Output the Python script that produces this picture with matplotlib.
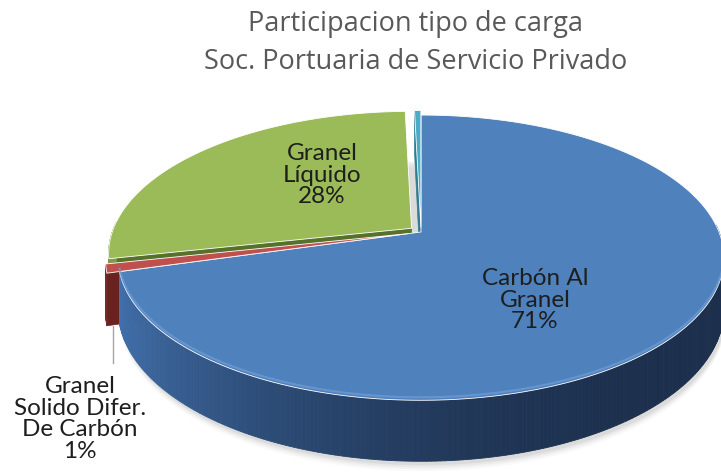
import numpy as np
import matplotlib
matplotlib.use("Agg")
import matplotlib.pyplot as plt
from matplotlib.colors import to_rgb

# data (clockwise from the top)
labels = ["Carbón Al\nGranel\n71%", "Granel\nSolido Difer.\nDe Carbón\n1%", "Granel\nLíquido\n28%", ""]
values = [70.6, 1.0, 28.0, 0.4]
top_colors = ["#4F81BD", "#C0504D", "#9BBB59", "#4BACC6"]
side_light = ["#4373b0", "#7a2b29", "#7f9c44", "#3a8aa0"]
side_dark = ["#1c2f4c", "#4f1a18", "#55692c", "#24586a"]
face_colors = ["#2f5080", "#6a2220", "#56722a", "#2f7d92"]
explode = [0, 13, 12, 9]   # pixels

title = "Participacion tipo de carga\nSoc. Portuaria de Servicio Privado"

W, H = 721, 473
fig = plt.figure(figsize=(W / 100, H / 100), dpi=100)
ax = fig.add_axes([0, 0, 1, 1])
ax.set_xlim(0, W)
ax.set_ylim(H, 0)
ax.axis("off")

cx, cy = 421, 232      # hub of the pie (pixels)
R, Ry = 298, 138
k = 0.18               # perspective strength
depth = 50


def proj(t):
    s = 1 / (1 + k * np.sin(t))
    return cx + R * np.cos(t) * s, cy - Ry * np.sin(t) * s, s


fracs = np.array(values) / sum(values)
bounds = np.radians(90 - 360 * np.concatenate([[0], np.cumsum(fracs)]))


def offset(i):
    mid = (bounds[i] + bounds[i + 1]) / 2
    return explode[i] * np.cos(mid), -explode[i] * np.sin(mid) * 0.5


# soft shadow under the pie
ts = np.linspace(0, 2 * np.pi, 300)
sx, sy, ss = proj(ts)
for j, a in enumerate(np.linspace(0.05, 0.02, 4)):
    ax.fill(sx + 2, sy + depth * ss + 4 + 2 * j, color="black", alpha=a, lw=0, zorder=1)

# sides of each slice, from the back to the front
z = 2.0
for i in [2, 3, 1, 0]:
    t0, t1 = bounds[i], bounds[i + 1]
    dx, dy = offset(i)
    # radial cut faces that turn toward the viewer
    if explode[i]:
        for t, normal in [(t0, t0 + np.pi / 2), (t1, t1 - np.pi / 2)]:
            if np.sin(normal) >= 0:
                continue
            x1, y1, s1 = proj(t)
            ax.fill([cx + dx, x1 + dx, x1 + dx, cx + dx],
                    [cy + dy, y1 + dy, y1 + dy + depth * s1, cy + dy + depth],
                    color=face_colors[i], lw=0.5, zorder=z)
    # outer wall, shaded darker toward the right
    ts = np.linspace(t0, t1, max(3, int(abs(t1 - t0) / np.radians(0.7))))
    lo, hi = np.array(to_rgb(side_dark[i])), np.array(to_rgb(side_light[i]))
    for a, b in zip(ts[:-1], ts[1:]):
        if np.sin((a + b) / 2) > 0.05:
            continue
        f = 0.5 - 0.5 * np.cos((a + b) / 2)
        c = lo + (hi - lo) * f ** 2.5
        x1, y1, s1 = proj(a)
        x2, y2, s2 = proj(b)
        ax.fill([x1 + dx, x2 + dx, x2 + dx, x1 + dx],
                [y1 + dy, y2 + dy, y2 + dy + depth * s2, y1 + dy + depth * s1],
                color=c, lw=0.6, zorder=z)
    z += 0.1

# top faces
for i in range(len(values)):
    dx, dy = offset(i)
    ts = np.linspace(bounds[i], bounds[i + 1], 200)
    xs, ys, _ = proj(ts)
    px = np.concatenate([[cx], xs]) + dx
    py = np.concatenate([[cy], ys]) + dy
    ax.fill(px, py, color=top_colors[i], ec="white", lw=0.6, zorder=3)

# bevel highlight on the front rim of the big slice
ts = np.linspace(np.radians(-5), bounds[1], 200)
hx, hy, _ = proj(ts)
ax.plot(hx, hy - 3, color="#6d9bd3", lw=1.5, alpha=0.8, zorder=4)

# labels
lab_font = dict(family="Lato", fontsize=17.5, color="#1e1e1e",
                ha="center", va="center", linespacing=1.05, zorder=5)
ax.text(535, 300, labels[0], **lab_font)
ax.text(322, 175, labels[2], **lab_font)
ax.text(80, 419, labels[1], **lab_font)
ax.plot([113, 113], [326, 363], color="#a6a6a6", lw=1, zorder=4)

ax.text(416, 43, title, family="Open Sans", fontsize=19.5, color="#595959",
        ha="center", va="center", linespacing=1.45)

fig.savefig("out.png", dpi=100)
